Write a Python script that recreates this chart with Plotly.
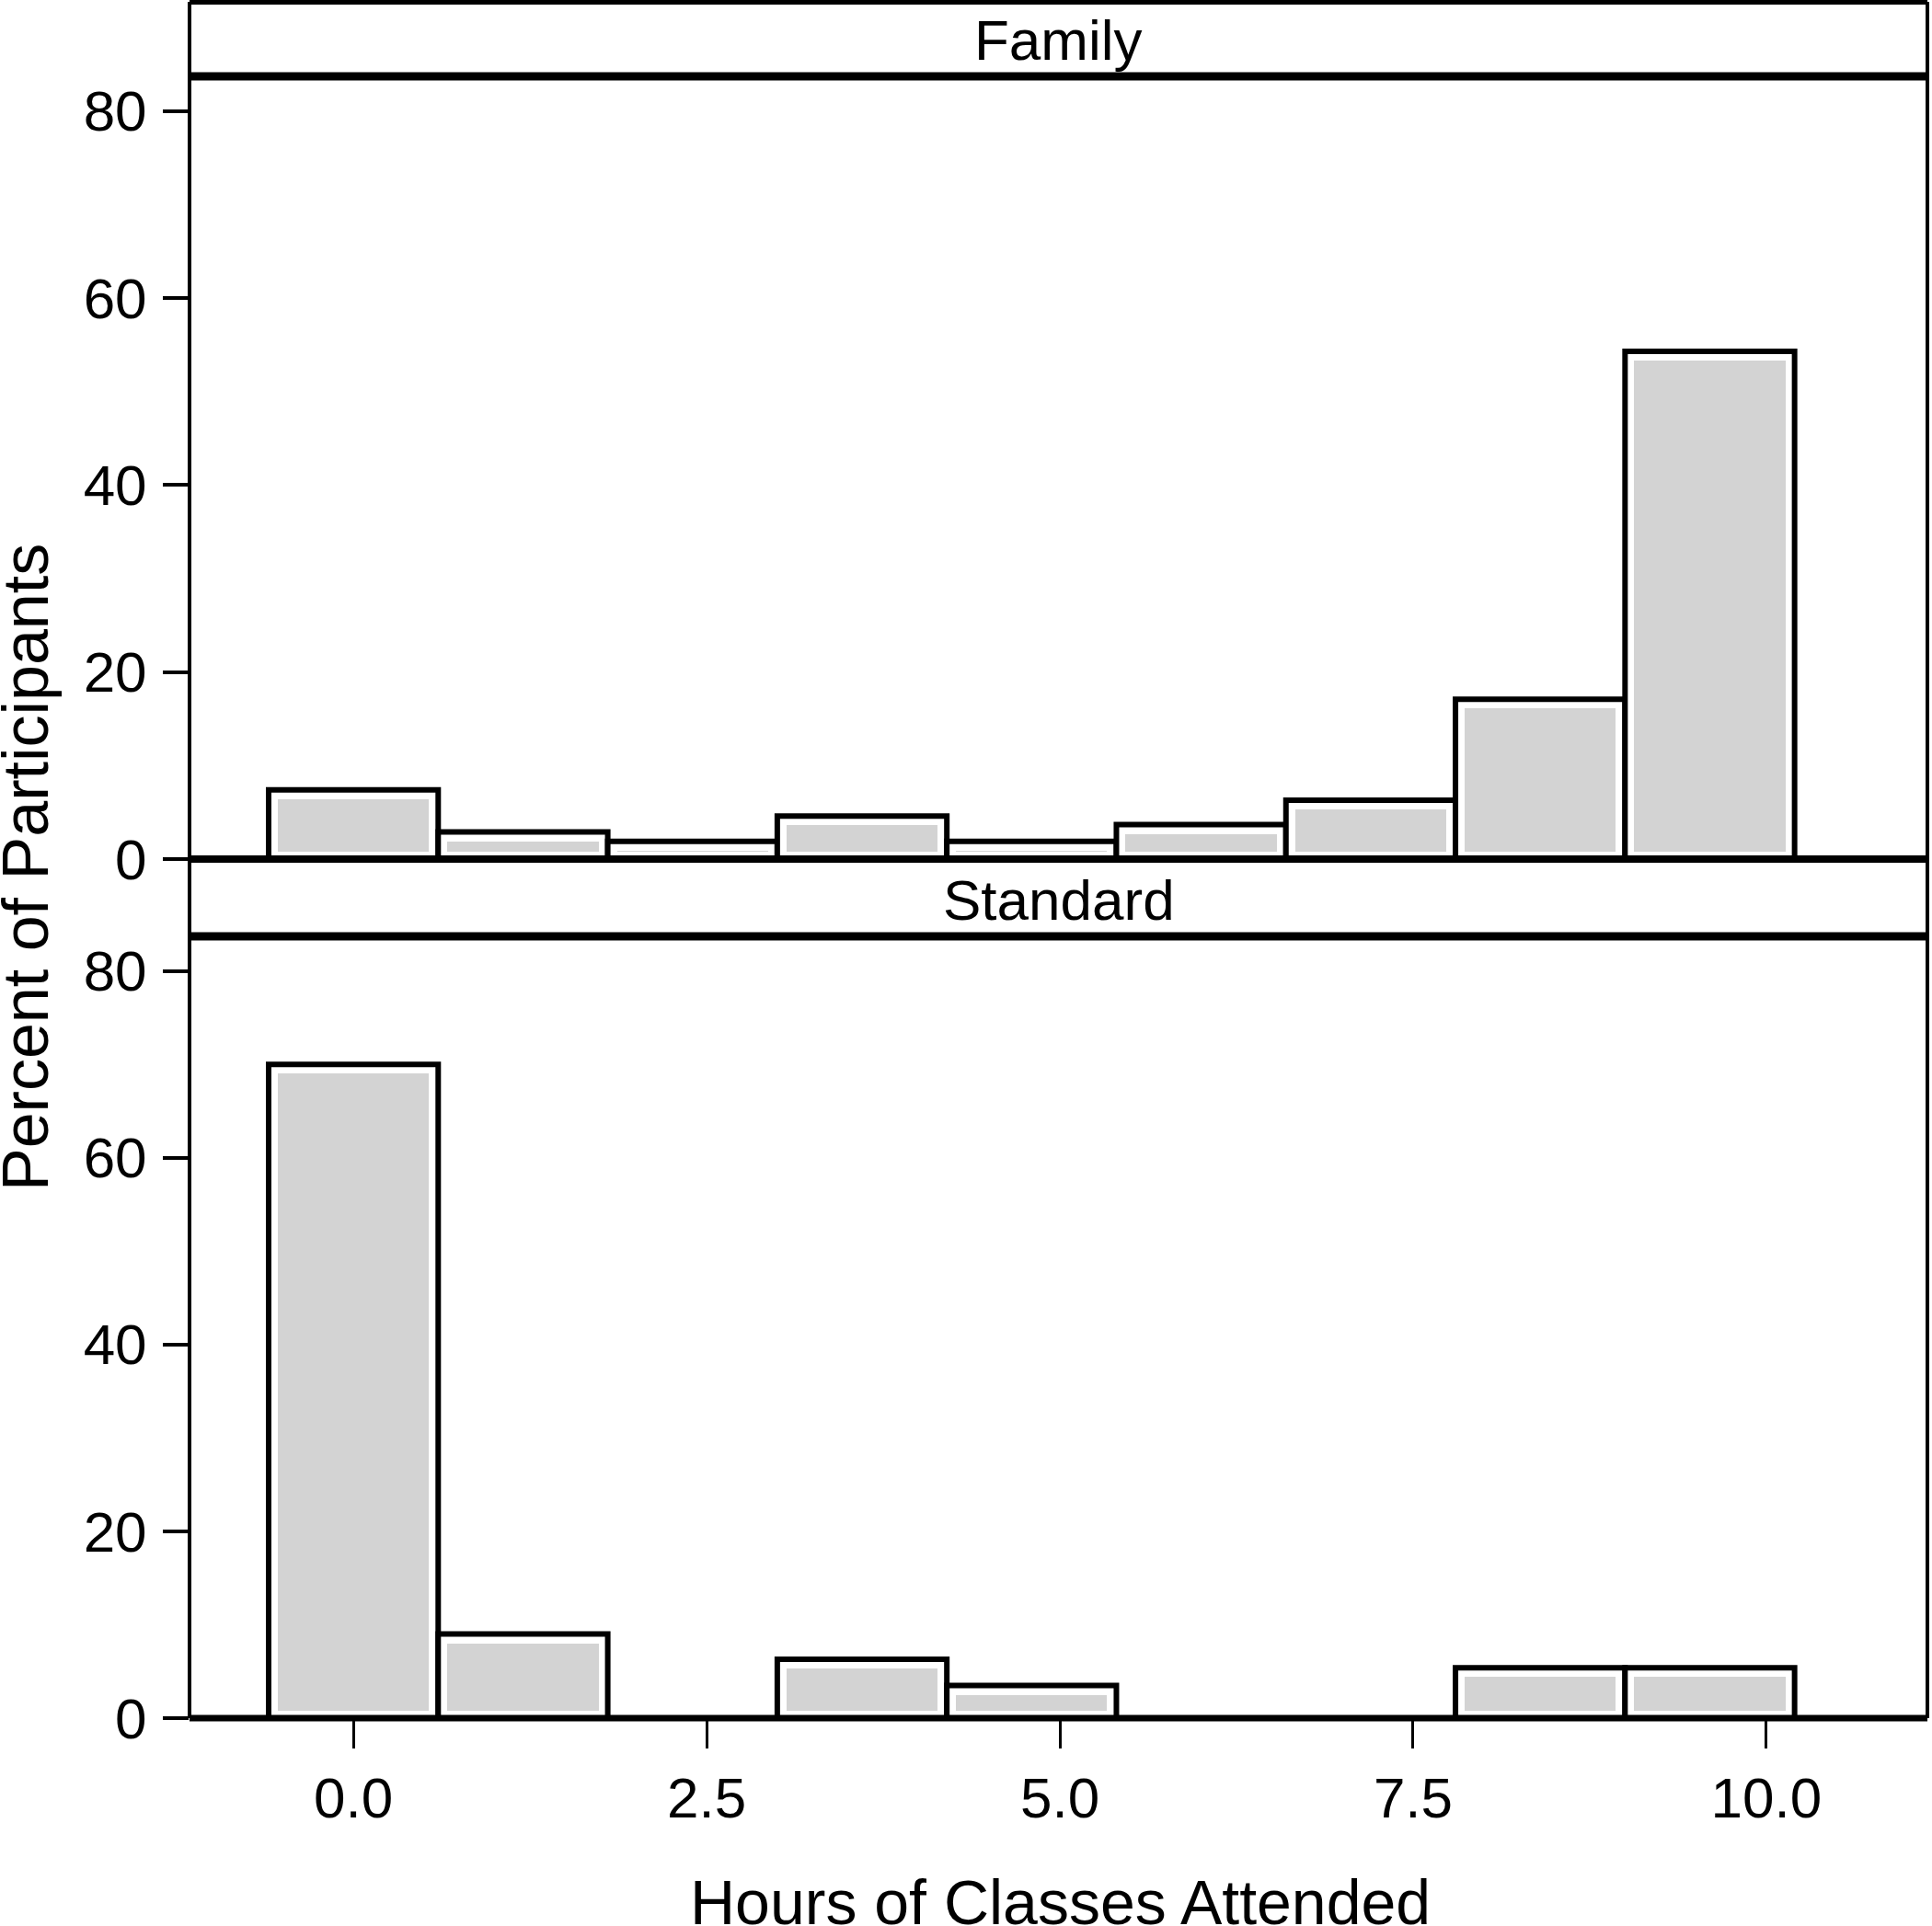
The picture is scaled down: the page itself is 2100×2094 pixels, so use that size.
import plotly.graph_objects as go

# ---------------- data ----------------
bin_centers = [0.0, 1.2, 2.4, 3.6, 4.8, 6.0, 7.2, 8.4, 9.6]
bin_width = 1.2
family_pct = [7.4, 2.9, 1.9, 4.6, 1.9, 3.7, 6.3, 17.1, 54.3]
standard_pct = [70.0, 9.0, 0.0, 6.3, 3.5, 0.0, 0.0, 5.4, 5.4]
panel_labels = ["Family", "Standard"]
x_ticks = [0, 2.5, 5, 7.5, 10]
x_tick_labels = ["0.0", "2.5", "5.0", "7.5", "10.0"]
y_ticks = [0, 20, 40, 60, 80]
y_tick_labels = ["0", "20", "40", "60", "80"]
x_title = "Hours of Classes Attended"
y_title = "Percent of Participants"

# ---------------- geometry / style ----------------
W, H = 2100, 2094
L, R, T, B = 206, 5, 2, 226
FONT = "Liberation Sans, Arial, Helvetica, sans-serif"
GRAY = "#d3d3d3"
X_RANGE = [-1.16, 11.14]
Y_RANGE = [0, 83.7]


def py(p):
    """pixel row (from top) -> paper y"""
    return (H - B - p) / (H - T - B)


def px(p):
    """pixel column -> paper x"""
    return (p - L) / (W - L - R)


# inner (gray) inset of bars, to reproduce the white inner ring
ix = 0.065          # x data units
iy_top = 1.0        # y data units
iy_base = 0.8

fig = go.Figure()


def add_hist(values, xa, ya):
    fig.add_trace(go.Bar(
        x=bin_centers, y=values, width=bin_width,
        marker=dict(color="white", line=dict(color="black", width=6)),
        xaxis=xa, yaxis=ya, showlegend=False, hoverinfo="skip"))
    inner = [max(v - iy_top - iy_base, 0) if v > 0 else 0 for v in values]
    fig.add_trace(go.Bar(
        x=bin_centers, y=inner, base=iy_base, width=bin_width - 2 * ix,
        marker=dict(color=GRAY, line=dict(width=0)),
        xaxis=xa, yaxis=ya, showlegend=False, hoverinfo="skip"))


add_hist(family_pct, "x2", "y2")
add_hist(standard_pct, "x", "y")

tickfont = dict(family=FONT, size=62, color="black")

yaxis_common = dict(
    range=Y_RANGE, tickvals=y_ticks, ticktext=y_tick_labels,
    ticks="outside", ticklen=28, tickwidth=4, tickcolor="black",
    showgrid=False, zeroline=False, showline=False,
    tickfont=tickfont, ticklabelstandoff=5, fixedrange=True)

fig.update_layout(
    width=W, height=H,
    margin=dict(l=L, r=R, t=T, b=B, pad=0),
    paper_bgcolor="white", plot_bgcolor="white",
    barmode="overlay", bargap=0,
    xaxis=dict(range=X_RANGE, tickvals=x_ticks, ticktext=x_tick_labels,
               ticks="outside", ticklen=32, tickwidth=3, tickcolor="black",
               showgrid=False, zeroline=False, showline=False,
               tickfont=tickfont, ticklabelstandoff=1,
               domain=[0, 1], anchor="y"),
    xaxis2=dict(range=X_RANGE, showticklabels=False, ticks="",
                showgrid=False, zeroline=False, showline=False,
                domain=[0, 1], anchor="y2", matches="x"),
    yaxis=dict(domain=[0, py(1018)], anchor="x", **yaxis_common),
    yaxis2=dict(domain=[py(934), py(83)], anchor="x2", **yaxis_common),
)

# panel borders and strips
shapes = []
lk = dict(type="line", xref="paper", yref="paper", layer="above")
for xx in (0, 1):
    shapes.append(dict(lk, x0=xx, x1=xx, y0=py(1868), y1=py(2),
                       line=dict(color="black", width=4)))
for yy, w in ((2, 6), (83, 9), (934, 8), (1018, 9), (1868, 7)):
    shapes.append(dict(lk, x0=0, x1=1, y0=py(yy), y1=py(yy),
                       line=dict(color="black", width=w)))
fig.update_layout(shapes=shapes)

annotations = [
    dict(text=panel_labels[0], x=0.5, y=py(44), xref="paper", yref="paper",
         showarrow=False, xanchor="center", yanchor="middle",
         font=dict(family=FONT, size=62, color="black")),
    dict(text=panel_labels[1], x=0.5, y=py(978), xref="paper", yref="paper",
         showarrow=False, xanchor="center", yanchor="middle",
         font=dict(family=FONT, size=62, color="black")),
    dict(text=x_title, x=px(1152), y=py(2068), xref="paper", yref="paper",
         showarrow=False, xanchor="center", yanchor="middle",
         font=dict(family=FONT, size=68, color="black")),
    dict(text=y_title, x=px(28), y=py(943), xref="paper", yref="paper",
         showarrow=False, xanchor="center", yanchor="middle", textangle=-90,
         font=dict(family=FONT, size=70, color="black")),
]
fig.update_layout(annotations=annotations)

fig.write_html("out.html",
               config={"displayModeBar": False, "staticPlot": True},
               post_script="document.body.style.margin='0';")
